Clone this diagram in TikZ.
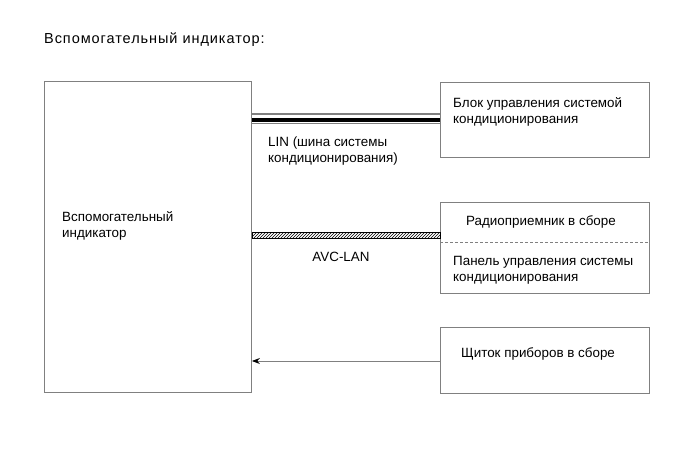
\documentclass[tikz,border=0pt]{standalone}
\usepackage{fontspec}
\setmainfont{Liberation Sans}
\usetikzlibrary{patterns,arrows.meta}
\definecolor{bord}{RGB}{128,128,128}
\begin{document}
\begin{tikzpicture}[x=1pt,y=-1pt,
  box/.style={draw=bord,line width=0.9pt,rectangle,inner sep=0pt,anchor=north west},
  lbl/.style={anchor=base west,inner sep=0pt,font=\fontsize{13.4}{16}\selectfont},
  lblc/.style={anchor=base,inner sep=0pt,font=\fontsize{13.4}{16}\selectfont}]
\useasboundingbox (0,0) rectangle (690,465);
\node[lbl,font=\fontsize{14.5}{17}\selectfont\addfontfeature{LetterSpace=6.5}] (title) at (44,44) {Вспомогательный индикатор:};
% boxes
\node[box,minimum width=207pt,minimum height=311pt] (lb) at (44,81) {};
\node[box,minimum width=209pt,minimum height=75pt] (b1) at (440,82) {};
\node[box,minimum width=209pt,minimum height=91pt] (b2) at (440,202) {};
\node[box,minimum width=209pt,minimum height=66pt] (b3) at (440,327) {};
% texts
\node[lbl] (lbt1) at (62,221) {Вспомогательный};
\node[lbl] (lbt2) at (62,237) {индикатор};
\node[lbl] (b1t1) at (453,108) {Блок управления системой};
\node[lbl] (b1t2) at (453,124) {кондиционирования};
\node[lbl] (b2t1) at (466,225) {Радиоприемник в сборе};
\node[lbl] (b2t2) at (453,265) {Панель управления системы};
\node[lbl] (b2t3) at (453,281) {кондиционирования};
\node[lbl] (b3t1) at (461,357) {Щиток приборов в сборе};
\node[lbl] (lin1) at (268,147) {LIN (шина системы};
\node[lbl] (lin2) at (268,163) {кондиционирования)};
\node[lblc] (avc) at (341,261) {AVC-LAN};
% dashed divider in b2
\draw[bord,line width=0.7pt,dash pattern=on 3pt off 2pt] (b2.west |- 0,242) -- (b2.east |- 0,242);
% LIN bus
\draw[bord,line width=1.3pt] (lb.east |- 0,114) -- (b1.west |- 0,114);
\draw[black,line width=3.5pt] (lb.east |- 0,120) -- (b1.west |- 0,120);
\draw[bord,line width=1.2pt] (lb.east |- 0,123.6) -- (b1.west |- 0,123.6);
% AVC-LAN hatched
\draw[black,line width=0.7pt,pattern=north east lines] (lb.east |- 0,232) rectangle (b2.west |- 0,238);
% arrow
\draw[bord,line width=1pt,-{Stealth[black,length=8pt,width=6pt]}] (b3.west |- 0,361) -- (lb.east |- 0,361);
\end{tikzpicture}
\end{document}
